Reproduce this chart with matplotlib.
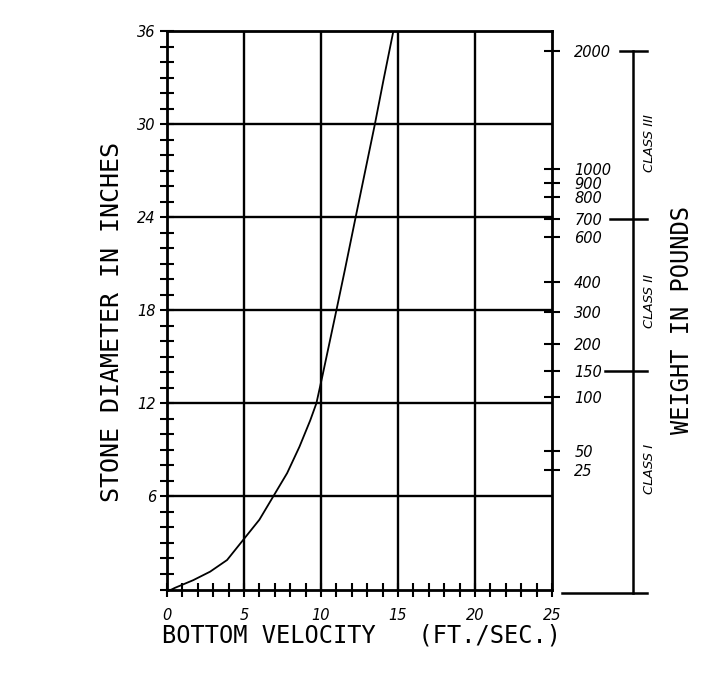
import matplotlib
matplotlib.use("Agg")
import matplotlib.pyplot as plt
import matplotlib.transforms as mtransforms
import numpy as np

# ---- data ----
velocity = [0.3, 0.5, 1.7, 2.8, 3.9, 4.95, 6.0, 6.9, 7.8, 8.6, 9.3, 9.7, 9.9,
            10.1, 11.0, 11.55, 12.25, 13.5, 14.05, 14.7]
diameter = [0.0, 0.1, 0.6, 1.15, 1.9, 3.2, 4.5, 6.0, 7.5, 9.2, 10.9, 12.0, 12.9,
            13.8, 18.0, 20.6, 24.0, 30.0, 32.8, 36.0]

x_major = [0, 5, 10, 15, 20, 25]
y_major = [6, 12, 18, 24, 30, 36]

weight_labels = ["2000", "1000", "900", "800", "700", "600", "400", "300",
                 "200", "150", "100", "50", "25"]
weight_pos_in = [34.7, 27.1, 26.2, 25.3, 23.9, 22.7, 19.8, 17.9,
                 15.8, 14.1, 12.4, 8.9, 7.7]

class_bounds = ["2000", "700", "150"]
class_names = ["CLASS III", "CLASS II", "CLASS I"]
class_label_y = [28.8, 18.6, 7.8]

W, H = 727, 690
fig = plt.figure(figsize=(W / 100, H / 100), dpi=100)
ax = fig.add_axes([167 / W, (H - 589.5) / H, 385 / W, 558.5 / H])

ax.set_xlim(0, 25)
ax.set_ylim(0, 36)

# grid
for xv in x_major[1:-1]:
    ax.axvline(xv, color="black", lw=1.7, zorder=1)
for yv in y_major[:-1]:
    ax.axhline(yv, color="black", lw=1.7, zorder=1)

ax.plot(velocity, diameter, color="black", lw=1.3, zorder=3)

for s in ax.spines.values():
    s.set_linewidth(2.0)

ax.set_xticks(x_major)
ax.set_xticks(np.arange(0, 26, 1), minor=True)
ax.set_yticks(y_major)
ax.set_yticks(np.arange(0, 37, 1), minor=True)
ax.set_xticklabels([str(v) for v in x_major], fontstyle="italic", fontsize=10.5)
ax.set_yticklabels([str(v) for v in y_major], fontstyle="italic", fontsize=10.5)
ax.tick_params(axis="x", which="both", direction="inout", length=10, width=1.5,
               pad=8, top=False)
ax.tick_params(axis="y", which="both", direction="inout", length=10, width=1.5,
               pad=3, right=False)

# right weight scale
ax2 = ax.twinx()
ax2.set_ylim(0, 36)
ax2.set_yticks(weight_pos_in)
ax2.set_yticklabels(weight_labels, fontstyle="italic", fontsize=10.5)
ax2.tick_params(axis="y", direction="inout", length=12, width=1.5, pad=10)
for s in ax2.spines.values():
    s.set_visible(False)

# class bracket
tr = mtransforms.blended_transform_factory(ax.transAxes, ax.transData)
wmap = dict(zip(weight_labels, weight_pos_in))
bx = 1.2104
ytop = wmap[class_bounds[0]]
ybot = -0.2
ax.plot([bx, bx], [ytop, ybot], color="black", lw=1.8, transform=tr, clip_on=False)
tick_left = [1.1766, 1.1506, 1.1377]
for name, xl in zip(class_bounds, tick_left):
    ax.plot([xl, 1.2468], [wmap[name], wmap[name]], color="black", lw=1.8,
            transform=tr, clip_on=False)
ax.plot([1.026, 1.2468], [ybot, ybot], color="black", lw=1.8, transform=tr, clip_on=False)
for name, yc in zip(class_names, class_label_y):
    ax.text(1.2545, yc, name, rotation=90, ha="center", va="center",
            fontsize=9.5, fontstyle="italic", transform=tr)

# axis titles
mono = "DejaVu Sans Mono"
fig.text(112 / W, 1 - 322 / H, "STONE DIAMETER IN INCHES", rotation=90,
         ha="center", va="center", fontsize=18, family=mono)
fig.text(361 / W, 1 - 636 / H, "BOTTOM VELOCITY   (FT./SEC.)",
         ha="center", va="center", fontsize=17, family=mono)
fig.text(682 / W, 1 - 320 / H, "WEIGHT IN POUNDS", rotation=90,
         ha="center", va="center", fontsize=17, family=mono)

fig.savefig("out.png", dpi=100)
